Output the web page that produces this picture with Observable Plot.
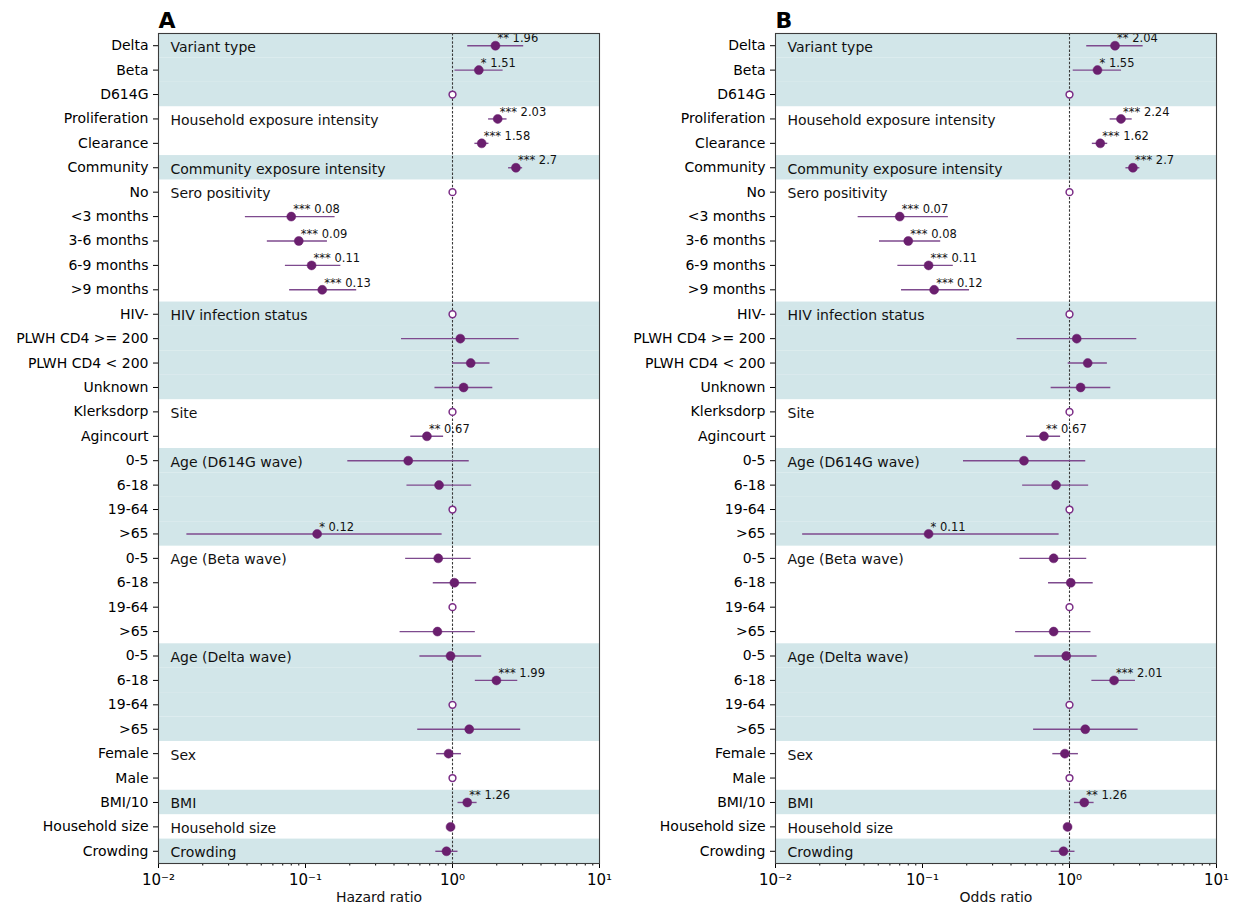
<!DOCTYPE html>
<html>
<head>
<meta charset="utf-8">
<script src="https://cdn.jsdelivr.net/npm/d3@7"></script>
<script src="https://cdn.jsdelivr.net/npm/@observablehq/plot@0.6"></script>
<style>
  html, body { margin: 0; padding: 0; background: #fff; }
  #wrap { display: flex; width: 1234px; }
  svg { font-family: "DejaVu Sans", sans-serif; }
</style>
</head>
<body>
<div id="wrap"></div>
<script>
// Row labels, top to bottom
const rowLabels = [
  "Delta", "Beta", "D614G",
  "Proliferation", "Clearance",
  "Community",
  "No", "<3 months", "3-6 months", "6-9 months", ">9 months",
  "HIV-", "PLWH CD4 >= 200", "PLWH CD4 < 200", "Unknown",
  "Klerksdorp", "Agincourt",
  "0-5", "6-18", "19-64", ">65",
  "0-5", "6-18", "19-64", ">65",
  "0-5", "6-18", "19-64", ">65",
  "Female", "Male",
  "BMI/10", "Household size", "Crowding"
];

// Group headings and the row each one sits on
const groupNames = [
  "Variant type", "Household exposure intensity", "Community exposure intensity",
  "Sero positivity", "HIV infection status", "Site", "Age (D614G wave)",
  "Age (Beta wave)", "Age (Delta wave)", "Sex", "BMI", "Household size", "Crowding"
];
const groupRows = [0, 3, 5, 6, 11, 15, 17, 21, 25, 29, 31, 32, 33];

// Rows covered by a shaded band
const shadedRows = [0, 1, 2, 5, 11, 12, 13, 14, 17, 18, 19, 20, 25, 26, 27, 28, 31, 33];

// Reference categories (ratio fixed at 1)
const refRows = [2, 6, 11, 15, 19, 23, 27, 30];

// Hazard ratios with 95% CI
const hrEst = [1.96, 1.51, 1, 2.03, 1.58, 2.7, 1, 0.08, 0.09, 0.11, 0.13,
  1, 1.13, 1.33, 1.19, 1, 0.67, 0.50, 0.81, 1, 0.12, 0.80, 1.03, 1, 0.79,
  0.97, 1.99, 1, 1.30, 0.94, 1, 1.26, 0.97, 0.91];
const hrLo = [1.27, 1.04, 1, 1.76, 1.42, 2.41, 1, 0.039, 0.055, 0.073, 0.078,
  1, 0.45, 1.0, 0.76, 1, 0.52, 0.194, 0.49, 1, 0.0156, 0.48, 0.74, 1, 0.44,
  0.60, 1.43, 1, 0.58, 0.78, 1, 1.09, 0.95, 0.77];
const hrHi = [3.05, 2.21, 1, 2.35, 1.77, 3.0, 1, 0.159, 0.141, 0.174, 0.223,
  1, 2.84, 1.80, 1.88, 1, 0.87, 1.30, 1.35, 1, 0.85, 1.34, 1.46, 1, 1.43,
  1.58, 2.78, 1, 2.91, 1.15, 1, 1.47, 0.99, 1.09];

// Odds ratios with 95% CI
const orEst = [2.04, 1.55, 1, 2.24, 1.62, 2.7, 1, 0.07, 0.08, 0.11, 0.12,
  1, 1.12, 1.33, 1.19, 1, 0.67, 0.49, 0.81, 1, 0.11, 0.78, 1.02, 1, 0.78,
  0.95, 2.01, 1, 1.28, 0.93, 1, 1.26, 0.97, 0.91];
const orLo = [1.31, 1.06, 1, 1.89, 1.43, 2.42, 1, 0.0365, 0.051, 0.068, 0.072,
  1, 0.44, 0.98, 0.75, 1, 0.51, 0.19, 0.48, 1, 0.0153, 0.46, 0.72, 1, 0.43,
  0.58, 1.42, 1, 0.57, 0.77, 1, 1.08, 0.95, 0.75];
const orHi = [3.17, 2.26, 1, 2.67, 1.82, 3.01, 1, 0.150, 0.133, 0.162, 0.209,
  1, 2.87, 1.81, 1.91, 1, 0.87, 1.29, 1.35, 1, 0.85, 1.31, 1.45, 1, 1.40,
  1.54, 2.81, 1, 2.93, 1.15, 1, 1.47, 0.99, 1.09];

// Significance stars shown beside the estimate ("" = no label)
const hrStars = ["**", "*", "", "***", "***", "***", "", "***", "***", "***", "***",
  "", "", "", "", "", "**", "", "", "", "*", "", "", "", "",
  "", "***", "", "", "", "", "**", "", ""];
const orStars = ["**", "*", "", "***", "***", "***", "", "***", "***", "***", "***",
  "", "", "", "", "", "**", "", "", "", "*", "", "", "", "",
  "", "***", "", "", "", "", "**", "", ""];

const majorTicks = [0.01, 0.1, 1, 10];
const minorTicks = [2, 3, 4, 5, 6, 7, 8, 9].flatMap(m => [0.01 * m, 0.1 * m, m]);
const supLabel = {0.01: "10\u207B\u00B2", 0.1: "10\u207B\u00B9", 1: "10\u2070", 10: "10\u00B9"};

const bandColor = "#d2e6e9";
const dotColor = "#6a1f6e";
const ciColor = "#7e4a8e";

function panel(letter, axisLabel, est, lo, hi, stars) {
  const rows = d3.range(rowLabels.length).map(i => ({
    i, est: est[i], lo: lo[i], hi: hi[i],
    ref: refRows.includes(i),
    note: stars[i] ? `${stars[i]} ${est[i]}` : ""
  }));
  const bands = shadedRows.map(i => ({i}));
  const groups = groupNames.map((name, k) => ({name, i: groupRows[k]}));

  return Plot.plot({
    width: 617,
    height: 911,
    marginTop: 33,
    marginBottom: 48,
    marginLeft: 158,
    marginRight: 18,
    style: {fontFamily: "DejaVu Sans, sans-serif", fontSize: "14px", color: "#000", background: "#fff"},
    x: {type: "log", domain: [0.01, 10], axis: null},
    y: {type: "band", domain: d3.range(rowLabels.length), padding: 0, round: false, axis: null},
    marks: [
      Plot.barX(bands, {x1: 0.01, x2: 10, y: "i", fill: bandColor}),
      Plot.ruleX([1], {stroke: "#3a3a3a", strokeWidth: 1.1, strokeDasharray: "2.5,1.6"}),
      Plot.text(groups, {y: "i", text: "name", frameAnchor: "left", textAnchor: "start", dx: 12, dy: 1.5, fontSize: 14, fill: "#111"}),
      Plot.ruleY(rows.filter(d => !d.ref), {y: "i", x1: "lo", x2: "hi", stroke: ciColor, strokeWidth: 1.4}),
      Plot.dot(rows.filter(d => !d.ref), {y: "i", x: "est", r: 4.5, fill: dotColor, stroke: dotColor, strokeWidth: 0.5}),
      Plot.dot(rows.filter(d => d.ref), {y: "i", x: "est", r: 3.4, fill: "#fff", stroke: "#7b2d86", strokeWidth: 1.5}),
      Plot.text(rows.filter(d => d.note), {y: "i", x: "est", text: "note", textAnchor: "start", dx: 2, dy: -7, fontSize: 11.5, fill: "#111"}),
      Plot.axisY({tickSize: 5, tickPadding: 5, tickFormat: i => rowLabels[i], fontSize: 14, label: null}),
      Plot.axisX(minorTicks, {tickSize: 2.5, tickFormat: () => "", label: null}),
      Plot.axisX(majorTicks, {tickSize: 5, tickPadding: 6, tickFormat: d => supLabel[d], fontSize: 15, label: null}),
      Plot.text([axisLabel], {frameAnchor: "bottom", dy: 38, fontSize: 14, fill: "#111"}),
      Plot.text([letter], {frameAnchor: "top-left", textAnchor: "start", dx: 0, dy: -21, fontSize: 22, fontWeight: "bold", fill: "#000"}),
      Plot.frame({stroke: "#3c3c3c", strokeWidth: 1.1})
    ]
  });
}

const wrap = document.getElementById("wrap");
wrap.append(panel("A", "Hazard ratio", hrEst, hrLo, hrHi, hrStars));
wrap.append(panel("B", "Odds ratio", orEst, orLo, orHi, orStars));
</script>
</body>
</html>
